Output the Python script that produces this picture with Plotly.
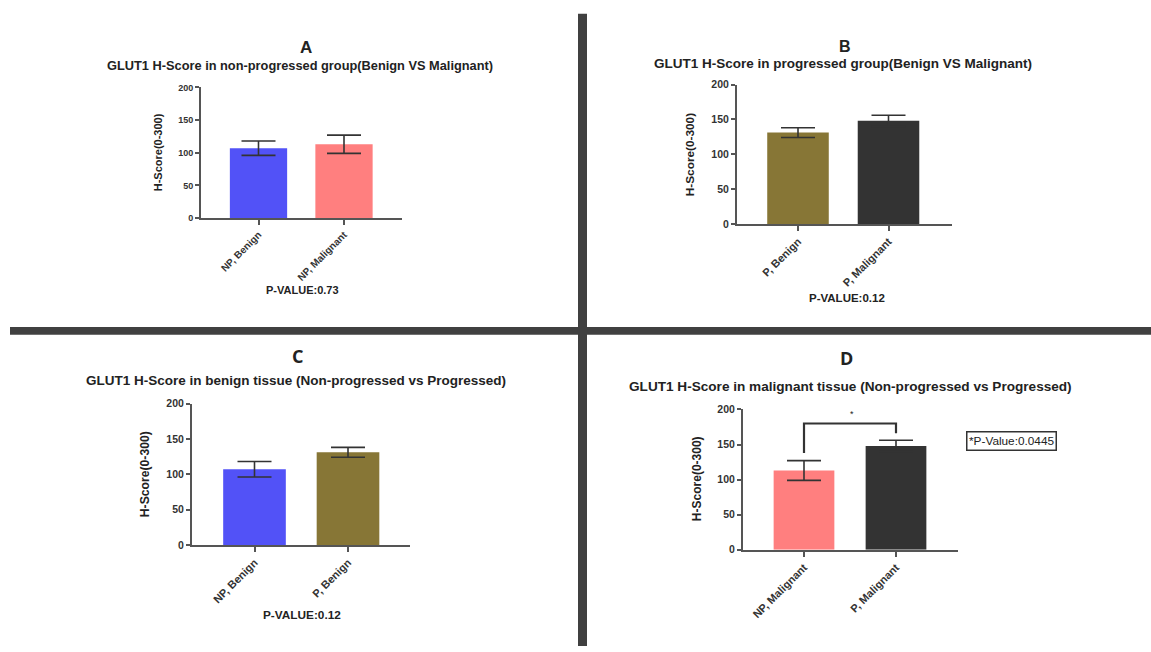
import plotly.graph_objects as go

W, H = 1151, 652

# ---- data ----
cats_A = ["NP, Benign", "NP, Malignant"]
mean_A = [107, 113]
sem_A = [11, 14]

cats_B = ["P, Benign", "P, Malignant"]
mean_B = [131, 148]
sem_B = [7, 8]

cats_C = ["NP, Benign", "P, Benign"]
mean_C = [107, 131]
sem_C = [11, 7]

cats_D = ["NP, Malignant", "P, Malignant"]
mean_D = [113, 148]
sem_D = [14, 8]

bracket_D_y = [138, 180, 180, 166]

col_npb = "#5252F7"
col_npm = "#FF7F7F"
col_pb = "#877636"
col_pm = "#333333"

colors = {
    "A": [col_npb, col_npm],
    "B": [col_pb, col_pm],
    "C": [col_npb, col_pb],
    "D": [col_npm, col_pm],
}

FONT = "Liberation Sans, Arial, sans-serif"

def px(x):
    return x / W

def py(y):
    return 1 - y / H

# panel geometry (pixels)
panels = {
    "A": dict(cats=cats_A, mean=mean_A, sem=sem_A, xl=201, xr=402, y0=216, y200=83, c0=258.5, c1=344, bw=0.67, yt=9, xt=10),
    "B": dict(cats=cats_B, mean=mean_B, sem=sem_B, xl=737, xr=952, y0=222, y200=80, c0=798, c1=888.5, bw=0.68, yt=10.5, xt=11),
    "C": dict(cats=cats_C, mean=mean_C, sem=sem_C, xl=192, xr=410, y0=549, y200=405, c0=254.5, c1=348, bw=0.67, yt=10.5, xt=11),
    "D": dict(cats=cats_D, mean=mean_D, sem=sem_D, xl=743, xr=958, y0=554, y200=411, c0=804, c1=896, bw=0.66, yt=10.5, xt=11),
}

fig = go.Figure()
layout = {}
for i, (key, p) in enumerate(panels.items(), start=1):
    xa = "x" if i == 1 else f"x{i}"
    ya = "y" if i == 1 else f"y{i}"
    fig.add_trace(go.Bar(
        x=p["cats"], y=p["mean"],
        marker=dict(color=colors[key], line=dict(width=0)),
        width=p["bw"],
        error_y=dict(type="data", array=p["sem"], color="#333333", thickness=1.6, width=17),
        xaxis=xa, yaxis=ya, showlegend=False,
    ))
    sp = p["c1"] - p["c0"]
    xr0 = (p["xl"] - p["c0"]) / sp
    xr1 = 1 + (p["xr"] - p["c1"]) / sp
    xname = "xaxis" if i == 1 else f"xaxis{i}"
    yname = "yaxis" if i == 1 else f"yaxis{i}"
    layout[xname] = dict(
        domain=[px(p["xl"]), px(p["xr"])], anchor=ya, type="category",
        range=[xr0, xr1], showline=True, linecolor="#555555", linewidth=2,
        ticks="outside", ticklen=5, tickwidth=1.5, tickcolor="#555555",
        tickangle=-45, showgrid=False, zeroline=False,
        tickfont=dict(family=FONT, size=p["xt"], color="#333333", weight="bold"),
    )
    layout[yname] = dict(
        domain=[py(p["y0"]), py(p["y200"])], anchor=xa,
        range=[0, 200], tickvals=[0, 50, 100, 150, 200],
        showline=True, linecolor="#555555", linewidth=2,
        ticks="outside", ticklen=4, tickwidth=1.5, tickcolor="#555555",
        showgrid=False, zeroline=False,
        tickfont=dict(family=FONT, size=p["yt"], color="#333333", weight="bold"),
    )

# significance bracket in D
fig.add_trace(go.Scatter(
    x=[cats_D[0], cats_D[0], cats_D[1], cats_D[1]], y=bracket_D_y,
    mode="lines", line=dict(color="#333333", width=2.2),
    xaxis="x4", yaxis="y4", showlegend=False, hoverinfo="skip",
))

def ann(text, x, y, size, angle=0, weight="bold", family=FONT, **kw):
    return dict(text=text, x=px(x), y=py(y), xref="paper", yref="paper",
                showarrow=False, textangle=angle, xanchor="center", yanchor="middle",
                font=dict(family=family, size=size, color="#222222", weight=weight), **kw)

annotations = [
    ann("A", 306, 42, 17),
    ann("GLUT1 H-Score in non-progressed group(Benign VS Malignant)", 300, 61, 12.8),
    ann("P-VALUE:0.73", 302, 289, 11),
    ann("H-Score(0-300)", 158, 149, 11, angle=-90),

    ann("B", 845, 41, 16),
    ann("GLUT1 H-Score in progressed group(Benign VS Malignant)", 843, 59, 13.5),
    ann("P-VALUE:0.12", 847, 297, 11.5),
    ann("H-Score(0-300)", 690, 152, 11.8, angle=-90),

    ann("C", 297, 357, 18, family="Open Sans, sans-serif"),
    ann("GLUT1 H-Score in benign tissue (Non-progressed vs Progressed)", 296, 382, 13.5),
    ann("P-VALUE:0.12", 302, 620, 11.8),
    ann("H-Score(0-300)", 145, 477, 12.2, angle=-90),

    ann("D", 846, 359, 18, family="Open Sans, sans-serif"),
    ann("GLUT1 H-Score in malignant tissue (Non-progressed vs Progressed)", 850, 388, 13.6),
    ann("H-Score(0-300)", 697, 482, 12, angle=-90),
    ann("*", 852, 416, 9, weight="normal"),
    ann("*P-Value:0.0445", 1011, 443, 11.8, weight="normal",
        bordercolor="#333333", borderwidth=1.5, borderpad=1.5, bgcolor="white"),
]

shapes = [
    dict(type="rect", xref="paper", yref="paper", x0=px(578), x1=px(587), y0=py(652), y1=py(8),
         fillcolor="#404040", line=dict(width=0), layer="above"),
    dict(type="rect", xref="paper", yref="paper", x0=px(10), x1=px(1151), y0=py(335), y1=py(327),
         fillcolor="#404040", line=dict(width=0), layer="above"),
]

fig.update_layout(
    width=W, height=H, margin=dict(l=0, r=0, t=0, b=0),
    paper_bgcolor="white", plot_bgcolor="white",
    annotations=annotations, shapes=shapes, bargap=0.3,
    font=dict(family=FONT),
    **layout,
)

fig.write_html("out.html")
